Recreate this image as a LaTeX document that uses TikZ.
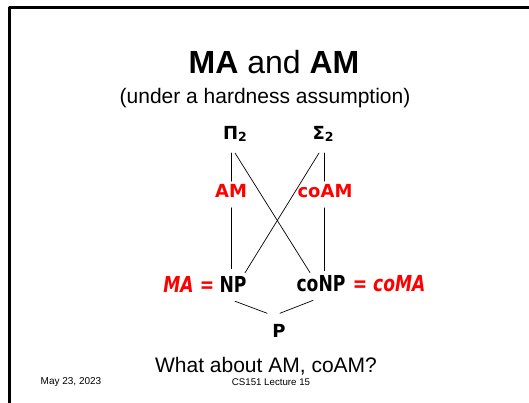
\documentclass[tikz,border=0pt]{standalone}
\usepackage{fontspec}
\usepackage{graphicx}
\setmainfont{Liberation Sans}
\newfontfamily\cplxfont{DejaVu Sans}
\usetikzlibrary{positioning}
\definecolor{slidered}{RGB}{255,0,0}
\newcommand{\narrow}[1]{\scalebox{0.78}[1]{#1}}
\newcommand{\sub}[1]{\raisebox{-2.5pt}{\fontsize{12.5}{14}\selectfont #1}}

\begin{document}
\begin{tikzpicture}[x=1pt,y=-1pt, line cap=round, line join=round]

\tikzset{
  edge/.style={draw=black, line width=0.7pt},
  cls/.style={font=\cplxfont\bfseries\fontsize{18}{20}\selectfont, inner sep=1pt},
  bigcls/.style={font=\cplxfont\bfseries\fontsize{22}{24}\selectfont, inner sep=1pt},
  note/.style={text=slidered},
}

\useasboundingbox (0,0) rectangle (529,403);

% slide frame
\draw[line width=3pt, line cap=butt] (9.5,403) -- (9.5,7.5) -- (529,7.5);

% heading
\node[font=\fontsize{32}{38}\selectfont] (title) at (274,62) {\textbf{MA} and \textbf{AM}};
\node[font=\fontsize{21}{25}\selectfont] (subtitle) at (265,98) {(under a hardness assumption)};

% classes
\node[cls] (pi) at (235,134) {Π\sub{2}};
\node[cls] (sig) at (323,134) {Σ\sub{2}};
\node[cls, note] (am) at (231,191) {AM};
\node[cls, note] (coam) at (325,191) {coAM};
\node[bigcls] (np) at (233,284) {\narrow{NP}};
\node[bigcls] (conp) at (321,284) {\narrow{coNP}};
\node[bigcls, note, left=3pt of np] (ma) {\narrow{\itshape MA =}};
\node[bigcls, note, right=5pt of conp] (coma) {\narrow{= \itshape coMA}};
\node[cls] (p) at (279,331) {P};

% vertical edges
\draw[edge] ([shift={(-4,10)}]pi.south) -- ([shift={(0,-2)}]am.north);
\draw[edge] ([shift={(0,9)}]am.south) -- ([shift={(-2,-6)}]np.north);
\draw[edge] ([shift={(1,10)}]sig.south) -- ([shift={(-1,-2)}]coam.north);
\draw[edge] ([shift={(-1,9)}]coam.south) -- ([shift={(3,-4)}]conp.north);

% crossing edges
\draw[edge] ([shift={(0,10)}]pi.south) -- ([shift={(-11,-2)}]conp.north);
\draw[edge] ([shift={(-4,10)}]sig.south) -- ([shift={(12,-2)}]np.north);

% edges down to P
\draw[edge] ([shift={(2,8)}]np.south) -- ([shift={(-12,-10)}]p.north);
\draw[edge] ([shift={(1,-10)}]p.north) -- ([shift={(-8,7)}]conp.south);

% footer
\node[font=\fontsize{21}{25}\selectfont] (question) at (266,366) {What about AM, coAM?};
\node[font=\fontsize{10}{12}\selectfont] (date) at (71,382.5) {May 23, 2023};
\node[font=\fontsize{9.7}{11}\selectfont] (lecture) at (271,382.5) {CS151 Lecture 15};

\end{tikzpicture}
\end{document}
